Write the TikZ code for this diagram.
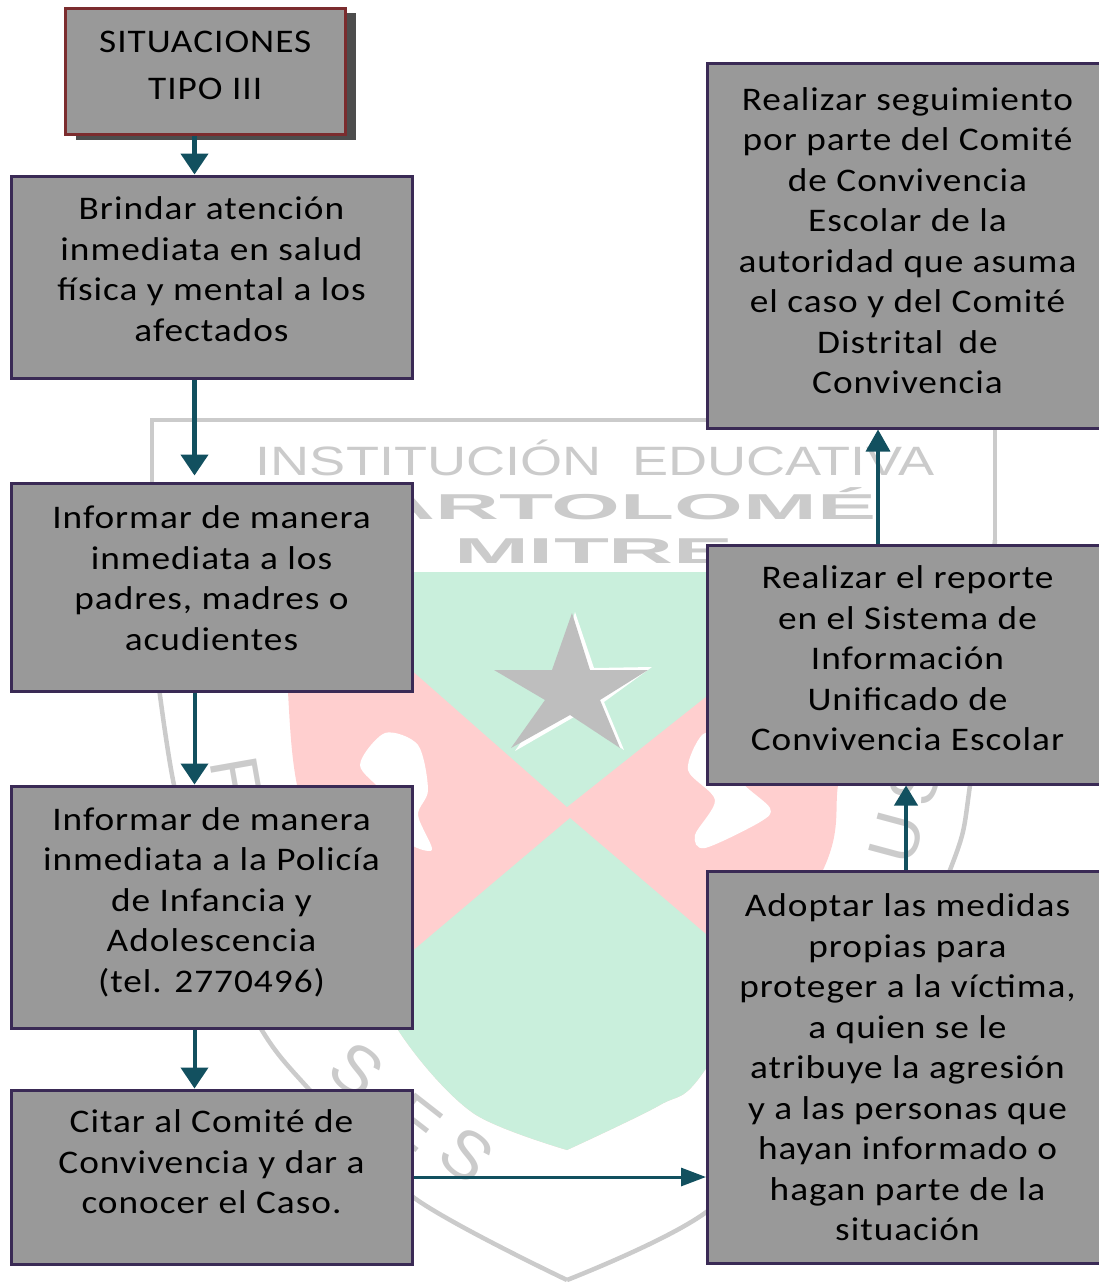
\documentclass[tikz,border=0pt]{standalone}
\usepackage{fontspec}
\usepackage{xcolor}
\usetikzlibrary{arrows.meta, shadows}
\setmainfont[LetterSpace=3,FakeStretch=1.13]{Carlito}
\newfontfamily\crestfont{Liberation Sans}
\definecolor{BoxGray}{HTML}{999999}
\definecolor{BoxEdge}{HTML}{3A2A55}
\definecolor{TitleEdge}{HTML}{7B2C2E}
\definecolor{ShadowGray}{HTML}{4D4D4D}
\definecolor{FlowTeal}{HTML}{12505F}
\definecolor{CrestGray}{HTML}{CBCBCB}
\definecolor{CrestPink}{HTML}{FFCFCF}
\definecolor{CrestGreen}{HTML}{C9EFDC}
\definecolor{StarGray}{HTML}{BEBEBE}
% lifts the text of a box by half of #1
\newcommand{\liftby}[1]{\\[\dimexpr #1-40.5pt\relax]\mbox{}}
\tikzset{
    stepbox/.style={rectangle, draw=BoxEdge, line width=3pt, fill=BoxGray, text=black,
        minimum width=401pt, align=center, inner sep=0pt,
        font=\fontsize{33}{40.5}\selectfont},
    sidebox/.style={stepbox, minimum width=400pt},
    flow/.style={-{Triangle[length=21pt,width=27pt]}, line width=4.5pt, FlowTeal},
    crestletter/.style={text=CrestGray, inner sep=0pt, font=\crestfont\fontsize{68}{68}\selectfont}
}
\begin{document}
\begin{tikzpicture}[x=1pt, y=-1pt]
    \useasboundingbox (0,0) rectangle (1099,1282);

    % Crest behind the flow
    \draw[CrestGray, line width=4.5pt] (152,482) -- (152,420) -- (995,420) -- (995,540);
    \draw[CrestGray, line width=4.5pt] plot[smooth] coordinates {(158,680) (174,785) (210,930) (263,1032) (307,1087) (413,1197) (567,1280)};
    \draw[CrestGray, line width=4.5pt] plot[smooth] coordinates {(995,540) (970,785) (950,870) (860,1070) (705,1213) (567,1280)};
    \begin{scope}
        \clip plot[smooth] coordinates {(285,572) (288,692) (297,785) (330,900) (400,1033) (473,1113) (567,1150)}
              -- plot[smooth] coordinates {(567,1150) (660,1105) (705,1070) (823,870) (838,785) (850,692) (855,572)} -- cycle;
        \fill[CrestPink] (270,560) rectangle (870,1160);
        \fill[CrestGreen] (300,572) -- (863,572) -- (567,807) -- cycle;
        \fill[CrestGreen] (270,560) rectangle (870,572);
        \fill[CrestGreen] (570,818) -- (830,1040) -- (830,1200) -- (300,1200) -- (300,1046) -- cycle;
    \end{scope}
    % figures on the shield
    \fill[white] plot[smooth cycle] coordinates {(360,765) (385,733) (418,745) (428,790) (418,815) (432,850) (405,840) (385,795)};
    \fill[white] plot[smooth cycle] coordinates {(688,770) (702,735) (722,738) (740,780) (770,808) (760,822) (705,848) (695,835) (715,800)};
    % star
    \fill[white] (575,612) -- (594,668) -- (652,667) -- (604,702) -- (624,750) -- (574,717) -- (515,751) -- (549,702) -- cycle;
    \fill[StarGray] (572,613) -- (590,670) -- (648,670) -- (600,700) -- (620,748) -- (570,715) -- (511,748) -- (545,700) -- (494,670) -- (552,670) -- cycle;
    % crest texts
    \node[text=CrestGray, inner sep=0pt, xscale=1.32, transform shape, font=\crestfont\fontsize{41}{41}\selectfont] (instname) at (595,458) {INSTITUCIÓN\hspace{12pt} EDUCATIVA};
    \node[text=CrestGray, inner sep=0pt, xscale=2.46, transform shape, font=\crestfont\bfseries\fontsize{36}{36}\selectfont] (bartolome) at (592,504) {BARTOLOMÉ};
    \node[text=CrestGray, inner sep=0pt, xscale=2.5, transform shape, font=\crestfont\bfseries\fontsize{36}{36}\selectfont] (mitre) at (594,551) {MITRE};
    \node[crestletter, rotate=-80] (letterf) at (236,778) {F};
    \node[crestletter, rotate=75] (letters) at (915,782) {S};
    \node[crestletter, rotate=75] (letteru) at (897,838) {U};
    \node[crestletter, rotate=-38] (lettersa) at (357,1070) {S};
    \node[crestletter, rotate=-38] (lettere) at (415,1122) {E};
    \node[crestletter, rotate=-38] (lettersb) at (467,1155) {S};

    % Left column
    \node[stepbox, draw=TitleEdge, minimum width=279.5pt, minimum height=126.5pt,
          drop shadow={shadow xshift=10.5pt, shadow yshift=-5pt, fill=ShadowGray, opacity=1},
          font=\fontsize{33}{47}\selectfont] (titulo) at (205.25,71.5)
        {SITUACIONES\\TIPO III\\[\dimexpr 12pt-47pt\relax]\mbox{}};
    \node[stepbox, minimum height=202pt] (atencion) at (211.5,277)
        {Brindar atención\\inmediata en salud\\física y mental a los\\afectados\liftby{16pt}};
    \node[stepbox, minimum height=208pt] (padres) at (211.5,587)
        {Informar de manera\\inmediata a los\\padres, madres o\\acudientes\liftby{18pt}};
    \node[stepbox, minimum height=242pt] (policia) at (211.5,907)
        {Informar de manera\\inmediata a la Policía\\de Infancia y\\Adolescencia\\(tel. 2770496)\liftby{14pt}};
    \node[stepbox, minimum height=174pt] (comite) at (211.5,1177)
        {Citar al Comité de\\Convivencia y dar a\\conocer el Caso.\liftby{30pt}};

    % Right column
    \node[sidebox, minimum height=392pt] (medidas) at (907.5,1067.5)
        {Adoptar las medidas\\propias para\\proteger a la víctima,\\a quien se le\\atribuye la agresión\\y a las personas que\\hayan informado o\\hagan parte de la\\situación};
    \node[sidebox, minimum height=239pt] (reporte) at (907.5,664.5)
        {Realizar el reporte\\en el Sistema de\\Información\\Unificado de\\Convivencia Escolar\liftby{12pt}};
    \node[sidebox, minimum height=365pt] (seguimiento) at (907.5,245.5)
        {Realizar seguimiento\\por parte del Comité\\de Convivencia\\Escolar de la\\autoridad que asuma\\el caso y del Comité\\Distrital\hspace{6pt} de\\Convivencia\liftby{10pt}};

    % Arrows
    \draw[flow] ([xshift=-10.75pt]titulo.south) -- ([xshift=-17pt]atencion.north);
    \draw[flow, shorten >=6pt] ([xshift=-17pt]atencion.south) -- ([xshift=-17pt]padres.north);
    \draw[flow, line width=4pt] ([xshift=-17pt]padres.south) -- ([xshift=-17pt]policia.north);
    \draw[flow, line width=4pt] ([xshift=-17pt]policia.south) -- ([xshift=-17pt]comite.north);
    \draw[-{Triangle[length=25pt,width=18pt]}, line width=3pt, FlowTeal] (comite.east) -- (comite.east -| medidas.west);
    \draw[-{Triangle[length=20pt,width=23pt]}, line width=4pt, FlowTeal] ([xshift=-1.5pt]medidas.north) -- ([xshift=-1.5pt]reporte.south);
    \draw[-{Triangle[length=22pt,width=24pt]}, line width=3.5pt, FlowTeal] ([xshift=-29.5pt]reporte.north) -- ([xshift=-29.5pt]seguimiento.south);
\end{tikzpicture}
\end{document}
